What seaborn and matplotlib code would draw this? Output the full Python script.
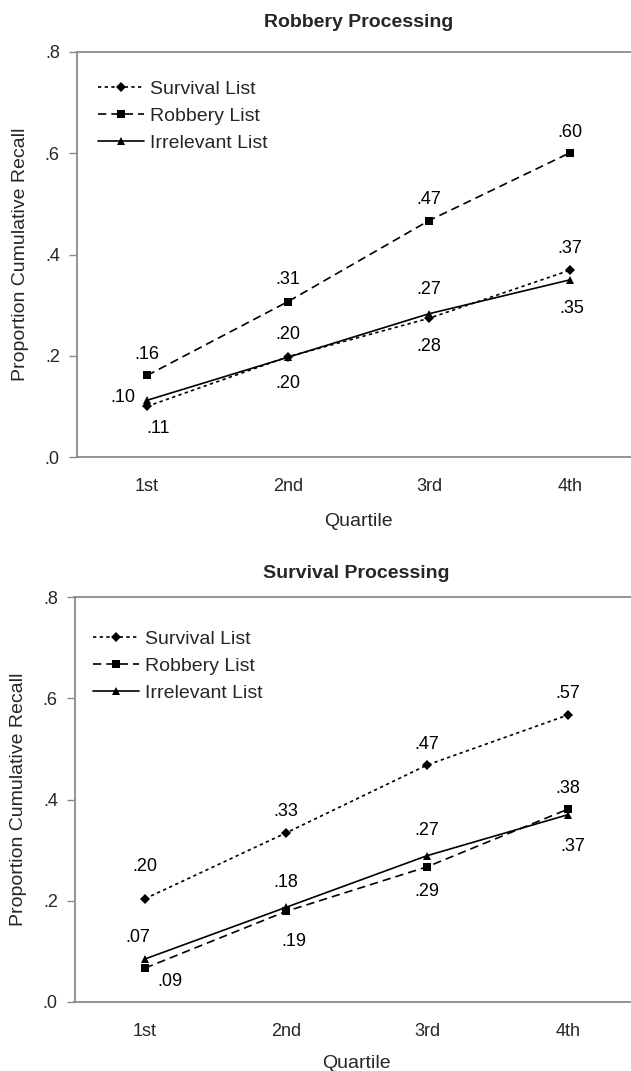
import numpy as np
import pandas as pd
import matplotlib
matplotlib.use("Agg")
import matplotlib.pyplot as plt
from matplotlib.lines import Line2D
import seaborn as sns

# ---------------- data ----------------
quartiles = ["1st", "2nd", "3rd", "4th"]
list_names = ["Survival List", "Robbery List", "Irrelevant List"]
panel_titles = ["Robbery Processing", "Survival Processing"]

robbery_proc_survival = [0.100, 0.198, 0.274, 0.369]
robbery_proc_robbery = [0.161, 0.307, 0.467, 0.601]
robbery_proc_irrelevant = [0.112, 0.197, 0.283, 0.350]

survival_proc_survival = [0.204, 0.334, 0.468, 0.567]
survival_proc_robbery = [0.067, 0.179, 0.267, 0.381]
survival_proc_irrelevant = [0.085, 0.187, 0.289, 0.370]

y_ticks = [0.0, 0.2, 0.4, 0.6, 0.8]
y_tick_labels = [".0", ".2", ".4", ".6", ".8"]

# ---------------- style ----------------
PX = 0.72  # points per pixel at dpi 100
sns.set_style("white")
plt.rcParams["font.family"] = ["Liberation Sans", "DejaVu Sans"]

markers = {"Survival List": "D", "Robbery List": "s", "Irrelevant List": "^"}
msizes = {"Survival List": 4.8, "Robbery List": 5.8, "Irrelevant List": 6.3}
dashes = {"Survival List": (2.0, 2.0), "Robbery List": (5.0, 3.0), "Irrelevant List": ""}

# label offsets in pixels (dx, dy) per panel per series
label_offsets = [
    {
        "Survival List": [(-24, 9), (0, 22), (0, 29), (0, 22)],
        "Robbery List": [(0, 21), (0, 22), (0, 21), (0, 20)],
        "Irrelevant List": [(11, -28), (0, -26), (0, -33), (2, -29)],
    },
    {
        "Survival List": [(0, 32), (0, 21), (0, 21), (0, 21)],
        "Robbery List": [(-7, 31), (0, 29), (0, 36), (0, 21)],
        "Irrelevant List": [(25, -23), (8, -34), (0, -36), (5, -32)],
    },
]

panels = [
    [robbery_proc_survival, robbery_proc_robbery, robbery_proc_irrelevant],
    [survival_proc_survival, survival_proc_robbery, survival_proc_irrelevant],
]

W, H = 631, 1071
fig = plt.figure(figsize=(W / 100, H / 100), dpi=100)
axes_px = [(76.5, 52, 564, 405), (74.5, 597, 564, 405)]  # left, top, width, height
title_gap = [25, 19]          # px from axes top to title baseline
xlabel_gap = [69, 66]         # px from axes bottom to xlabel baseline
legend_anchor = [(21, 28), (18, 33)]  # px from axes left / top

SPINE = "#8a8a8a"
FS_TICK = 13
FS_VAL = 13
FS_LAB = 14

for p, (series, title) in enumerate(zip(panels, panel_titles)):
    l, t, w, h = axes_px[p]
    ax = fig.add_axes([l / W, 1 - (t + h) / H, w / W, h / H])
    rows = []
    for name, vals in zip(list_names, series):
        for i, v in enumerate(vals):
            rows.append({"Quartile": i, "Value": v, "List": name})
    df = pd.DataFrame(rows)
    sns.lineplot(data=df, x="Quartile", y="Value", style="List",
                 style_order=list_names, markers=markers, dashes=dashes,
                 color="black", linewidth=1.2, markersize=5.5,
                 markeredgewidth=0, legend=False, ax=ax)
    for line, name in zip(ax.get_lines(), list_names):
        line.set_markersize(msizes[name])

    for name, vals in zip(list_names, series):
        for i, v in enumerate(vals):
            dx, dy = label_offsets[p][name][i]
            ax.annotate(f"{v:.2f}".lstrip("0"), (i, v), xytext=(dx * PX, dy * PX),
                        textcoords="offset points", ha="center", va="center",
                        fontsize=FS_VAL, color="black")

    ax.set_xlim(-0.5, 3.5)
    ax.set_ylim(0, 0.8)
    ax.set_yticks(y_ticks)
    ax.set_yticklabels(y_tick_labels)
    ax.set_xticks(range(len(quartiles)))
    ax.set_xticklabels(quartiles)
    ax.set_xticks(np.arange(len(quartiles) + 1) - 0.5, minor=True)
    ax.tick_params(axis="x", which="major", length=0, pad=15, labelsize=FS_TICK)
    ax.tick_params(axis="x", which="minor", length=4, width=1, color=SPINE, direction="out")
    ax.tick_params(axis="y", which="major", length=6, width=1, color=SPINE,
                   direction="out", pad=6, labelsize=FS_TICK, left=True)
    for s in ["left", "bottom", "top", "right"]:
        ax.spines[s].set_visible(True)
        ax.spines[s].set_color(SPINE)
        ax.spines[s].set_linewidth(1.3)

    ax.set_xlabel("Quartile", fontsize=FS_LAB)
    ax.xaxis.label.set_va("baseline")
    ax.xaxis.set_label_coords(0.5, -xlabel_gap[p] / h)
    ax.set_ylabel("Proportion Cumulative Recall", fontsize=FS_LAB)
    ax.yaxis.label.set_va("center")
    ax.yaxis.set_label_coords(-56 / w, 0.5)

    ax.text(0.5, 1 + title_gap[p] / h, title, transform=ax.transAxes, ha="center",
            va="baseline", fontsize=FS_LAB, fontweight="bold")

    handles = []
    for n in list_names:
        hd = Line2D([], [], color="black", linewidth=1.2, marker=markers[n],
                    markersize=msizes[n], markeredgewidth=0,
                    linestyle="--" if dashes[n] else "-")
        if dashes[n]:
            hd.set_dashes(dashes[n])
        handles.append(hd)
    lx, ly = legend_anchor[p]
    ax.legend(handles, list_names, loc="upper left",
              bbox_to_anchor=(lx / w, 1 - ly / h), frameon=False,
              borderpad=0, borderaxespad=0, handlelength=2.4,
              handletextpad=0.3, labelspacing=0.5, fontsize=FS_LAB)

fig.savefig("out.png", dpi=100)
